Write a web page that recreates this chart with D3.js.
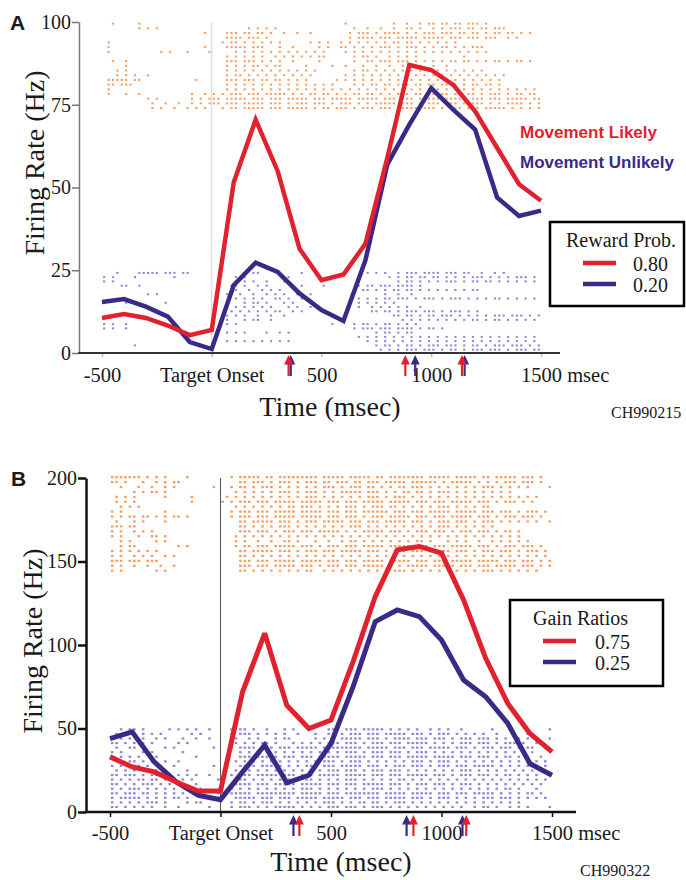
<!DOCTYPE html>
<html>
<head>
<meta charset="utf-8">
<script src="https://cdn.jsdelivr.net/npm/d3@7"></script>
<style>
  body { margin: 0; background: #fff; }
  svg text { font-family: "Liberation Serif", "Times New Roman", serif; fill: #1a1a1a; }
</style>
</head>
<body>
<svg id="chart" width="686" height="880"></svg>
<script>
/* firing-rate figure, panels A and B */

// centre of each 100 ms bin of the smoothed curves (msec)
var timeBins = [-500,-400,-300,-200,-100,0,100,200,300,400,500,600,700,800,900,1000,1100,1200,1300,1400,1500];

// panel A: reward probability 0.80 (movement likely) / 0.20 (movement unlikely), Hz
var likelyRateA   = [10.6,11.8,10.6,8.3,5.4,7,51.5,70.5,55,31.5,22,23.7,33,59,87,85.5,81,73,62,51,46];
var unlikelyRateA = [15.4,16.3,14,11,3.3,1.2,20.5,27.3,24.5,18,13,9.7,28,57,69,80,73.5,67.5,47,41.4,43];

// panel B: gain ratio 0.75 / 0.25, Hz
var highGainRateB = [33,27,24,18,12.6,12.6,72,107,64,50,55,90,129,157,159,155,127,92,65,47,36];
var lowGainRateB  = [44,48,30,18,10,7.4,24,40,17.5,22,41,75,114,121,117,103,79,69,53,29,22];

var xTicks = [-500, 0, 500, 1000, 1500];
var xTickLabels = ["-500", "Target Onset", "500", "1000", "1500"];
var yTicksA = [0, 25, 50, 75, 100];
var yTicksB = [0, 50, 100, 150, 200];

// mean movement-time arrows under the time axis (msec)
var likelyArrowsA   = [350, 882, 1140];
var unlikelyArrowsA = [360, 927, 1152];
var highArrowsB = [357, 873, 1112];
var lowArrowsB  = [330, 842, 1095];

// rate band (Hz, top row -> bottom row) that each raster occupies
var likelyBandA   = [99.5, 74];
var unlikelyBandA = [24.2, 1];
var highBandB = [200.5, 144.5];
var lowBandB  = [49.5, 3];

// spike rasters: one string per trial, 20 ms per character ('|' = spike), groups of 100 ms
var likelyRasterA = [
  "..|.. ...|. ..... ..... ..... ..... ..... ..... ..... ..... ..... |.... ..... .|..| ..|.| |.||. ||.|| |.|.. ..... .....",
  "..... ...|. |.|.. ..... ..... ..... ...|. |.|.| ..... ..... ..... ..|.. |..|. .|..| |.|.. |.|.| ||.|| .||.| ||... .....",
  "..... ..... ..... ..... ...|. ...|| |.||. ||.|. .|..| ..|.. ..... .|.|| |.|.| |||.| .|.|| |.||| .||.| |.|.| |.||. |.|..",
  "..... ..... ..... ..... ..... ...|| ||.|| |.|.. ..... ..... ..... .|.|| ||.|| |.||| ||.|| |||.| ||.|| |.||| ..|.| .....",
  ".|... ..... ..... ..... ..... ..|.| |.|.| .|.|. |.... ..|.| .|..| .|.|. |.|.| .||.| |.|.| .|.|. |.... ..... ..... .....",
  ".|... ..... ..... ..... ...|. ...|| |||.| ||... |..|. ....| .|..| |.|.| .|.|| |.|.| ||.|. |.||. |.|.| ||... ..... .....",
  ".|... ..... ...|. |...| ....| ..... |.|.| .|.|. |.|.| .|.|. |.... |.|.| .|.|. |.|.| .|.|. |.|.| .|.|. |.|.. ..... .....",
  "..... ..... ..... ..... ..... ...|. |.|.| .|..| .|.|. |.|.| |.... ..|.| |.|.. |.|.| .|... ..... ..|.. ..... ..... .....",
  "..|.. |.... ..... ..... ..... ...|| |.||| .|.|. |..|. ....| ..... ..|.. ||.|| |.||| .|.|. |.|.| |.||. |.|.| |.|.| |.|..",
  "..... |.... ..... ..... ..... ...|. |.|.| |.|.| |.... .|... ..|.. |...| ..|.. |..|. ..|.. |..|. ..... ..... ..... .....",
  "...|. |.... ..... ..... ..... ...|. |.|.| .|.|. |.|.| .|.|. ..... ..|.| |.|.| .|.|. |.|.| .|.|. |.|.| .|... ..... .....",
  "...|. |.|.. |.... ..... ..... ...|. ||.|. |.|.| .|.|. |.|.. ..... |.|.| .|.|. |.|.| .|.|. |.|.| .|.|. |.|.| .|... .....",
  ".|||| |.||. ..... ..... .|... ...|| |.||| .||.| |.|.| .|... ...|. |.|.| .|.|. |.|.| |.|.| .|.|. |.|.| .|.|. |.... .....",
  ".||.| ||... ..... ..... ..... ...|. |.|.| .|.|. |.|.| .|.|. |.|.. ..|.| .||.| |.||| .||.| |.||| |.|.| |.||. |.... .....",
  ".|... ..... ..... ..... ..... ...|. |.|.| .|.|. |.|.| .|.|. |.|.| .|.|. |.|.| .|.|. |.|.| .|.|. |.|.| .|.|. |.|.| .|.|.",
  ".|... |..|. ..... ..... |..|. |.|.| ||.|| |.||| ||.|. |.||. ||.|. |.||. ||.|. |.||| .||.| |.||. ||.|| .|.|| |.|.| |.||.",
  "..... ..... |.|.. ..... |.|.| ||.|| |||.| ||.|| |.||| ||.|| |.||| ||.|| |||.| ||.|| |.||| ||.|| |||.| ||.|| |.||| ||.||",
  "..... ..... .|..| ..|.. |.|.| ||.|| |.||| ||.|| |.|.| ||.|| |.|.| ||.|. |.||| ||.|| |.|.| ||.|| |.||| ||.|. |.||| |.|.|",
  "..... ..... .|.|. .|..| .|.|. ..|.| |.||| ||.|| |.||| ||.|. ||.|| |.|.| ||.|| |.||| ||.|| |.|.| ||.|| |.||| ||.|. |.|.|"
];

var unlikelyRasterA = [
  "...|. ...|| |||.| ||.|| ..... ..... ..|.| |.... ..... |.... ..... ..... |.|.| ..|.| ||.|| ||.|| |.||. .|..| .|... .....",
  "|.|.. ..|.. ..... .|... ..... ..... |.|.. ..... ..|.. ..... ..... ..... ..... |.|.| |.||. ||.|. |.|.| ||.|. |.|.| ||.|.",
  "|.|.. ..... ..... ..... ..... ..... |.|.| ..|.. .|... ..... ..... ..... ..... ..|.| |.|.| .|.|| |.|.| |.||. |.|.| .|.|.",
  "....| |..|. ..... ..... ..... ....| |.|.. |.|.. ..... |.... |.... ...|. ||.|| |.||| |.|.. ..... ..... ..... ..... .....",
  "..... ..... ..... ..... ..... .|... |..|. .|.|. |.... ..... ..... ..|.| |.|.| .||.| |.|.| .|.|. |.|.| |.... ..... .....",
  "..... ..... |.|.. ..... ..... ...|. .|..| ..|.| .|..| ..|.. ..... ..... ....| ..|.. |.... ..... ..... ..... ..... .....",
  "..... ..... ..... ..... ..... ..... |.|.| .|..| |.|.. |.... ..... ...|. |.|.| |.||| .|.|| |.|.| ||.|. |.|.| |.|.| .|.|.",
  "|.... |.|.. ....| ..... ..... ..... ..|.| |.|.. .|.|. ..|.. ..... ...|. |.|.| .|... ..... ..... ..... ..... ..... .....",
  "..... ..... ..... ..... ..... ...|. |.|.| .|.|. ..|.| ..|.. ..... ...|. .|.|. |.|.| ..|.. ..... ..... ..... ..... .....",
  "..... ..... ..... ..... ..... ....| .|.|. |.|.| |..|. |.... ..... ..... .||.| |.|.| ||.|| |.|.| ||.|. |.... ..... .....",
  "..... ..... ..... ..... ..... ...|. |.|.. |..|. .|... ..... ..... ..... ..... .||.| |.|.| |.||| .|.|. |.|.| ||.|| |.|.|",
  "..... ..... ..... ..... ..... ...|. ..|.| |..|. ..... ..... ..... ..... ..... ...|. |.|.| .|.|. |.|.| |.|.| |.|.| .|.|.",
  "|.|.. |.... ..... ..... ..... ...|. |.... ..... ..... ..... ..|.. ..|.| |.|.| |.|.| .|... ..... ..... ..... ..... .....",
  "|.|.. |.... ..... ..... ..... ..... ..... ..... ..... ..... ..... ..|.| ||.|| |.||| |.|.| |.|.. ..... ..... ..... .....",
  "..... ..... ..... ..... ..... ...|. |.|.. ..|.. |.|.. ..... ..... ..... ..|.| |.|.| |.... ..... ..... ..... ..... .....",
  "..... ..... ..... ..... ..... ..... ..... ..... ..... ..... ..... ...|. |.|.| .|.|. |.|.| .|.|. |.|.| .|.|. |.|.| .|.|.",
  "..... ..... ..... ..... ..... ...|. |.|.| .|.|. |.|.. ..... ..... ..... |.|.| .|.|. |.|.| .|.|. |.|.| .|.|. |.|.| .|.|.",
  "..... ..|.. ..... ..... ..... ..... ..... ..... ..... ..... ..... ..... ..|.| |.|.| |.|.| ||.|| |.|.| |.|.| ||.|| |.|.|",
  "..... ..... ..... ..... ..... ..... ..... ..... ..... ..... ..... ..... ...|. |.|.| ||.|| |.|.| |.|.| ||.|| |.|.| ||.||"
];

var highRasterB = [
  "||||| ||.|. |.|.. ..|.. ..... ..|.| ||||. ||.|| ||||| ||.|| |||.| ||||. ||.|| ||||| |.||| ||.|| |||.| |.||| ||.|| |.|..",
  "||.|. ..|.. |.|.| |.... ..... ....| |.||| .|.|| |.|.| ||.|| .|||. ||.|| |.||| ||.|| ||||. |.||| ||.|. |.|.| ||.|| |.|..",
  "..|.. .|..| ..|.| ..... ...|. ..|.| |.|.| ||.|. |.|.| .|.|| |.|.| ||.|| .|.|. ||.|| |.|.| .|.|. |.|.| ||.|. |.|.| ....|",
  "..... |.|.| |.|.. ..... ..... ...|. |.|.| .|.|| |.|.| ||.|. |.||| ||.|| |.|.| .||.| |.|.| ||.|. |.|.| .|.|. |.... .....",
  ".|.|. |.... ..|.. ...|. ..... .|.|. |.|.| .|.|. |.|.| ||.|. |.|.| .|.|| |.|.| ||.|. |.|.| .|.|. |.|.| .|.|. |.|.| .|...",
  ".|.|. |.... ..... ...|. ..... |.|.| ||.|| |.||| ||.|| |||.| ||.|| |.||| ||.|| |||.| ||.|| |.||| ||.|| |.|.| ||.|. |....",
  "..|.| .|... ..... ..... ..... ...|. |.|.| .|.|. ||.|| |.|.| .|.|| |.|.| ||.|| .|.|. |.|.| ||.|. |.|.| |.... ..... .....",
  "|.|.. ..... ..|.. ..... ..... ..|.| ||.|| |.||| ||.|| |||.| ||.|| |.||| |||.| ||.|| |.||| ||.|| |||.| ||.|| |.|.| ||.|.",
  "|.|.| |.||. |.|.| |.|.. ..... ..|.| ||.|| |.||| ||.|| |||.| ||.|| |.|.| ||.|| |||.| ||.|| |.||| ||.|| |.|.| ||.|| |.|..",
  ".|... |.|.. ..|.. ..... ..... ....| |.||| ||.|| |.|.| ||.|| |||.| ||.|| |.||| ||.|| |.|.| ||.|| |.|.| ||.|. |.|.| .|..|",
  "|||.| |.... ..... ..... ..... ....| |.|.| .|.|| |.|.| .|.|. |.|.| ||.|. |.|.| .|.|. |.|.| ||.|. |.|.| .|... ..... .....",
  "|.|.. |.|.| ..... ..... ..... ....| ||.|| |.|.| ||.|| |.||| ||.|. |.||| ||.|| |.|.| ||.|| |.|.| ||.|| |.|.| |.|.. .....",
  "|.|.. .|..| |.|.. ..... ..... ...|. |.|.| .|.|. |.|.| .|.|. |.|.| .|.|. |.|.| .|.|. |.|.| .|.|. |.|.| .|.|. |.|.. .....",
  "..|.| ..... |.|.. ..... ..... ...|. |..|. .|..| |.|.. .|..| ..|.| |.|.| .|.|. |.|.| |.|.. .|.|. |..|. .|.|. |.|.| .....",
  "..|.| |.... ..... |.|.. ..... ...|. ||.|| |.||| ||.|| |.|.| ||.|| |.||| ||.|| |||.| ||.|| |.||| ||.|| |.|.| ||.|| |.|..",
  "|.|.| .|.|. |.... ..... ..... ....| |.||| ||.|| |.|.| ||.|| |.||| ||.|| |.|.| ||.|| |.||| ||.|| |.|.| ||.|| |.|.| ||.|.",
  "|.|.. |.|.| ..|.| ..... ..... ....| |.|.| .|.|. |.|.| .|.|. |.|.| .|.|. |.|.| .|.|. |.|.| .|.|. |.|.| .|.|. |.|.| .|.|.",
  "|||.| ||.|| |.... ..... ..... ....| ||.|| |.||| ||.|| |||.| ||.|| |.||| ||.|| |||.| ||.|| |.||| ||.|| |||.| ||.|| |.|.|",
  "|.|.. |..|. .|..| ..... ..... ....| ||.|| |.||| ||.|| |.|.| ||.|| |.||| ||.|. |.||| ||.|| |.|.| ||.|| |.||| ||.|| |.|.|",
  "|.|.. ..... |.|.. ..... ..... ....| |.|.| .|.|. |.|.| |..|. |.|.| .|.|. |.|.| ||.|. |.|.| .|.|. |.|.| ||.|. |.|.| .|..."
];

var lowRasterB = [
  "..|.| |.|.. ...|. |.|.| ..|.. ..|.| |.|.. |...| .|... ....| ||.|| |.||| ||.|. |.|.| ..|.| .|..| ..... .|... ..... ....|",
  ".|.|. |.|.| .|... ...|. |.... ..|.| ||.|. |.|.| ..|.. .|..| |.|.| ||.|| |.||| ||.|| |.|.| ||.|. |.|.| ..|.. .|..| .....",
  "|.|.| ..|.. |.|.. .|..| ..|.. ...|. .|.|. ..|.| |.... .|.|. |.||| ||.|| |.|.| |||.| ||.|| |.|.| ||.|| |.|.| ..|.| ....|",
  "||.|. |.|.| ..... |.|.. ..... ...|. |.|.| |.|.. .|.|. |.|.| ||.|| |.|.| ||.|| |.||| ||.|. |.|.| ||.|| |.|.| ||.|. .|...",
  ".|..| |.... ..|.| ..... ...|. ..|.| |||.| ||.|| |.||| ||.|| ||||| ||.|| |||.| ||.|| |.||| ||.|| |.|.| ||.|| |.|.| |....",
  "|.|.. ..|.| ..... .|... ..... ....| .|.|. |.|.| .|.|. |.|.| .|.|| |.|.| ||.|| |.|.| ||.|. |.|.| .|.|. |.|.| .|.|. |....",
  "|.|.| .|... |.... ....| ..... ....| ||.|| |||.| ||.|| |.||| ||.|| |||.| ||.|| |.||| ||.|| |||.| ||.|| |.|.| |.|.| ..|..",
  "..|.| |.|.| ..|.. |.... ..... ...|. |.|.| .|.|. |.|.| .|.|| |.|.| ||.|. |.|.| .|.|| |.|.| ||.|. |.|.| .|.|. |.|.| .|.|.",
  "|.|.| ||.|. .|..| ..... ...|. ....| |.|.| ||.|. |.|.| ||.|| |.||| ||.|| |.|.| ||.|| |.|.| ||.|| |.||| ||.|. |.|.| ||.|.",
  ".|.|. |.|.| |.|.. ..|.. ..... ...|. .|.|. |.|.| .|.|. |.|.| ||.|| |.|.| ||.|| |.|.| .|.|. |.|.| ||.|. |.|.| .|.|. |.|..",
  "||.|| |.|.| ||.|. |.|.| ..|.. ..|.| ||.|| |||.| ||.|| |.||| ||.|| |||.| ||.|| |.||| ||.|| |.|.| ||.|| |.|.| |.|.| .|...",
  "|.|.| .||.| |.|.. .|.|. ....| ....| |.|.| .|.|. |.|.| |.|.| .|.|| |.|.| .|.|. ||.|. |.|.| .|.|. |.|.| .|.|. |.|.| .|.|.",
  "||.|. |.||| .|.|. |...| ..... ...|| ||.|| |.||| ||.|| |||.| ||.|| |.||| ||.|| |.|.| ||.|| |.|.| ||.|. |.|.| .|.|. |.|..",
  "|.|.| ||.|. |.|.| ..|.. |.... ..|.| .|.|. |.|.| .|.|| |.|.| .|.|. |.|.| ||.|. |.|.| .|.|. |.|.| .|.|. |.|.| |.|.. .|...",
  "||.|| |.||. |.|.| .|... ....| ..||| ||.|| ||||| ||.|| |||.| ||.|| ||||| |.||| ||.|| |||.| ||.|| |.||| ||.|. |.|.| |.|..",
  "|.||| ||.|. |.|.| |.|.. ....| ...|| |||.| ||.|| |.||| ||.|| |||.| ||.|| |.||| ||.|| |.|.| ||.|. |.|.| ||.|| |.|.| .|.|.",
  "|.|.| .|.|| |.|.. ..|.| |.... ..|.| |.|.| ||.|. |.|.| .|.|| |.|.| .||.| |.|.| ||.|. |.|.| .|.|. |.|.| .|.|. |.|.. .....",
  "||.|. |.|.| ..|.. |.... ..|.. ..|.| ||.|. |.||| ||.|. |.|.| ||.|| |.|.| ||.|. |.|.| .|.|. |.|.| ..|.| |.|.. |.|.| ....|"
];

var RED = "#e2212e", BLUE = "#3a2a88", ORANGE = "#f59d63", LILAC = "#8f86d5";

var svg = d3.select("#chart");

function drawRaster(g, p, rows, band, color) {
  var step = (band[0] - band[1]) / (rows.length - 1);
  var spikes = [];
  rows.forEach(function(row, i) {
    var r = row.replace(/ /g, "");
    for (var k = 0; k < r.length && k < 100; k++) {
      if (r[k] === "|") spikes.push({ t: -500 + k * 20 + 10, v: band[0] - i * step });
    }
  });
  g.append("g").selectAll("rect").data(spikes).join("rect")
    .attr("x", d => p.x(d.t) - p.dotW / 2)
    .attr("y", d => p.y(d.v) - p.dotH / 2)
    .attr("width", p.dotW)
    .attr("height", p.dotH)
    .attr("fill", color);
}

function drawArrows(g, p, times, color) {
  var a = g.append("g").selectAll("g").data(times).join("g")
    .attr("transform", t => "translate(" + p.x(t) + "," + p.arrowTip + ")");
  a.append("line").attr("x1", 0).attr("x2", 0).attr("y1", 7).attr("y2", 21)
    .attr("stroke", color).attr("stroke-width", 2.2);
  a.append("path").attr("d", "M-4.5,9.5L0,0L4.5,9.5Z").attr("fill", color);
}

function drawPanel(p) {
  var g = svg.append("g");
  var yBase = p.y(0);

  // target onset marker
  g.append("line")
    .attr("x1", p.x(0)).attr("x2", p.x(0))
    .attr("y1", p.y.range()[1]).attr("y2", yBase)
    .attr("stroke", p.onsetColor).attr("stroke-width", 1);

  drawRaster(g, p, p.highRaster, p.highBand, ORANGE);
  drawRaster(g, p, p.lowRaster, p.lowBand, LILAC);

  var line = d3.line().x((d, i) => p.x(timeBins[i])).y(d => p.y(d));
  g.append("path").datum(p.lowRate).attr("d", line)
    .attr("fill", "none").attr("stroke", BLUE).attr("stroke-width", p.lineW)
    .attr("stroke-linejoin", "miter").attr("stroke-miterlimit", 3);
  g.append("path").datum(p.highRate).attr("d", line)
    .attr("fill", "none").attr("stroke", RED).attr("stroke-width", p.lineW)
    .attr("stroke-linejoin", "miter").attr("stroke-miterlimit", 3);

  // y axis
  var ya = g.append("g").attr("transform", "translate(" + p.axisX + ",0)")
    .call(d3.axisLeft(p.y).tickValues(p.yTicks).tickSize(p.yTickSize).tickPadding(1).tickSizeOuter(0));
  ya.select(".domain").attr("stroke", p.yAxisColor).attr("stroke-width", p.yAxisW);
  ya.selectAll(".tick line").attr("stroke", p.yAxisColor).attr("stroke-width", p.yAxisW);
  ya.selectAll(".tick text").style("font-size", "20px").style("font-family", "Liberation Serif");

  // x axis
  var xa = g.append("g").attr("transform", "translate(0," + yBase + ")")
    .call(d3.axisBottom(p.x).tickValues(xTicks).tickFormat((d, i) => xTickLabels[i])
      .tickSize(p.xTickSize).tickPadding(p.xTickPad));
  xa.select(".domain").remove();
  xa.selectAll(".tick line").attr("stroke", p.xTickColor).attr("stroke-width", 1.5);
  xa.selectAll(".tick text").style("font-size", "20.5px").style("font-family", "Liberation Serif");
  var last = xa.selectAll(".tick text").filter(d => d === 1500);
  var half = last.node().getComputedTextLength() / 2;
  last.attr("text-anchor", "start").attr("x", -half).text("1500 msec");

  g.append("line")
    .attr("x1", p.axisX - p.yAxisW / 2).attr("x2", p.axisEnd)
    .attr("y1", yBase).attr("y2", yBase)
    .attr("stroke", p.xAxisColor).attr("stroke-width", p.xAxisW);

  drawArrows(g, p, p.lowArrows, BLUE);
  drawArrows(g, p, p.highArrows, RED);

  // titles
  g.append("text")
    .attr("transform", "translate(" + p.yTitle[0] + "," + p.yTitle[1] + ") rotate(-90)")
    .attr("text-anchor", "middle").style("font-size", "28px")
    .text("Firing Rate (Hz)");
  g.append("text")
    .attr("x", p.xTitle[0]).attr("y", p.xTitle[1])
    .attr("text-anchor", "middle").style("font-size", "28px")
    .text("Time (msec)");
  g.append("text")
    .attr("x", p.letter[0]).attr("y", p.letter[1])
    .style("font-family", "Liberation Sans").style("font-weight", "bold").style("font-size", "21px")
    .text(p.name);
  g.append("text")
    .attr("x", p.code[0]).attr("y", p.code[1])
    .style("font-size", "16px")
    .text(p.codeText);

  return g;
}

function drawLegendBox(g, box, title, labels) {
  g.append("rect")
    .attr("x", box.x).attr("y", box.y).attr("width", box.w).attr("height", box.h)
    .attr("fill", "#fff").attr("stroke", "#000").attr("stroke-width", 2.5);
  g.append("text").attr("x", box.titleX).attr("y", box.y + 25)
    .style("font-size", "20px").text(title);
  [RED, BLUE].forEach(function(c, i) {
    var yy = box.y + 41 + i * 21;
    g.append("line").attr("x1", box.sampleX).attr("x2", box.sampleX + 33)
      .attr("y1", yy).attr("y2", yy).attr("stroke", c).attr("stroke-width", 4.5);
    g.append("text").attr("x", box.labelX).attr("y", yy + 8)
      .style("font-size", "20px").text(labels[i]);
  });
}

var panelA = {
  name: "A",
  x: d3.scaleLinear().domain([-500, 1500]).range([102, 541]),
  y: d3.scaleLinear().domain([0, 100]).range([353, 22]),
  axisX: 79, axisEnd: 560,
  yTicks: yTicksA, yTickSize: 7,
  xTickSize: 4, xTickPad: 10, xTickColor: "#bbb",
  yAxisColor: "#777", yAxisW: 1.5, xAxisColor: "#333", xAxisW: 2,
  onsetColor: "#d4d4d4",
  highRate: likelyRateA, lowRate: unlikelyRateA,
  highRaster: likelyRasterA, lowRaster: unlikelyRasterA,
  highBand: likelyBandA, lowBand: unlikelyBandA,
  highArrows: likelyArrowsA, lowArrows: unlikelyArrowsA,
  dotW: 2.2, dotH: 2, lineW: 4.5, arrowTip: 355,
  yTitle: [44, 163], xTitle: [330, 416], letter: [10, 30],
  code: [611, 418], codeText: "CH990215"
};

var panelB = {
  name: "B",
  x: d3.scaleLinear().domain([-500, 1500]).range([110, 552]),
  y: d3.scaleLinear().domain([0, 200]).range([812, 478]),
  axisX: 86, axisEnd: 576,
  yTicks: yTicksB, yTickSize: 8,
  xTickSize: 5, xTickPad: 8, xTickColor: "#111",
  yAxisColor: "#111", yAxisW: 2.5, xAxisColor: "#111", xAxisW: 2.5,
  onsetColor: "#555",
  highRate: highGainRateB, lowRate: lowGainRateB,
  highRaster: highRasterB, lowRaster: lowRasterB,
  highBand: highBandB, lowBand: lowBandB,
  highArrows: highArrowsB, lowArrows: lowArrowsB,
  dotW: 2.6, dotH: 2.2, lineW: 5, arrowTip: 815,
  yTitle: [42, 641], xTitle: [341, 871], letter: [11, 486],
  code: [580, 876], codeText: "CH990322"
};

var gA = drawPanel(panelA);
gA.append("text").attr("x", 520).attr("y", 138)
  .style("fill", RED).style("font-family", "Liberation Sans").style("font-weight", "bold").style("font-size", "17px")
  .text("Movement Likely");
gA.append("text").attr("x", 520).attr("y", 168)
  .style("fill", BLUE).style("font-family", "Liberation Sans").style("font-weight", "bold").style("font-size", "17px")
  .text("Movement Unlikely");
drawLegendBox(gA, { x: 550, y: 222, w: 134, h: 84, titleX: 566, sampleX: 583, labelX: 633 },
  "Reward Prob.", ["0.80", "0.20"]);

var gB = drawPanel(panelB);
drawLegendBox(gB, { x: 510, y: 600, w: 153, h: 86, titleX: 533, sampleX: 543, labelX: 595 },
  "Gain Ratios", ["0.75", "0.25"]);
</script>
</body>
</html>
